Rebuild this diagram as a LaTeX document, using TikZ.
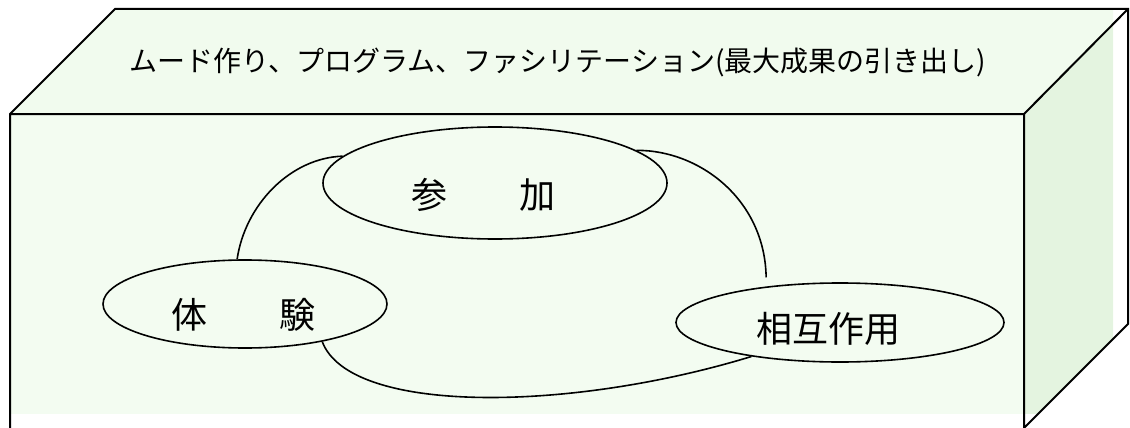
\documentclass[tikz,border=0pt]{standalone}
\usepackage{fontspec}
\newfontfamily\jp{Noto Sans CJK JP}
\usetikzlibrary{shapes.geometric}
\definecolor{frontfill}{HTML}{F3FCF1}
\definecolor{topfill}{HTML}{F1FBEE}
\definecolor{sidefill}{HTML}{E4F4E0}
\begin{document}
\begin{tikzpicture}[x=1pt,y=-1pt,
  edge/.style={line width=2pt, line join=miter},
  bubble/.style={ellipse, draw, line width=1.6pt, inner sep=0pt},
  conn/.style={line width=1.6pt},
  jtext/.style={inner sep=0pt, font=\jp\fontsize{36}{40}\selectfont},
  ttext/.style={inner sep=0pt, font=\jp\fontsize{28}{32}\selectfont}]
\useasboundingbox (0,0) rectangle (1130,428);
\begin{scope}
  \clip (0,0) rectangle (1113,413);
  \fill[topfill] (10,114) -- (115,9) -- (1128,9) -- (1024,114) -- cycle;
  \fill[frontfill] (10,114) rectangle (1024,428);
  \fill[sidefill] (1024,114) -- (1128,9) -- (1128,324) -- (1024,428) -- cycle;
\end{scope}
\draw[edge] (10,430) -- (10,114) -- (115,9) -- (1128,9) -- (1128,324) -- (1024,428) -- (1024,114) -- (10,114);
\draw[edge] (1024,114) -- (1128,9);
\node[ttext] (title) at (558,62) {ムード作り、プログラム、ファシリテーション(最大成果の引き出し)};
\node[bubble, minimum width=344pt, minimum height=112pt] (sanka) at (495,183) {};
\node[bubble, minimum width=284pt, minimum height=88pt] (taiken) at (245,304) {};
\node[bubble, minimum width=328pt, minimum height=79pt] (sogo) at (840,322.5) {};
\node[jtext] (sankatext) at (483,195) {参　　加};
\node[jtext] (taikentext) at (243,315) {体　　験};
\node[jtext] (sogotext) at (828,328.5) {相互作用};
\draw[conn] (sanka.170) .. controls (290,158) and (245,205) .. (taiken.100);
\draw[conn] (sanka.13) .. controls (700,150) and (765,200) .. ([yshift=9pt]sogo.154);
\draw[conn] (taiken.334) .. controls (350,415) and (570,412) .. (sogo.201);
\end{tikzpicture}
\end{document}
